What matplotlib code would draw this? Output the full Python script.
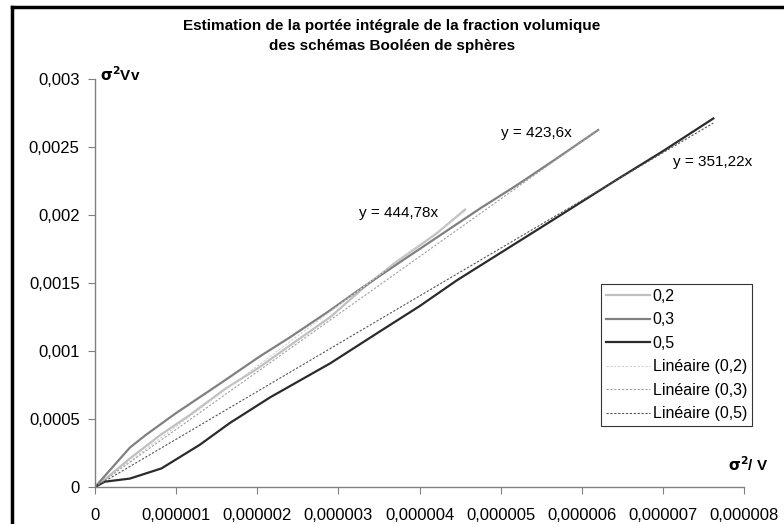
import numpy as np
import matplotlib
matplotlib.use('agg')
import matplotlib.pyplot as plt
from matplotlib.lines import Line2D

plt.rcParams['font.family'] = ['Liberation Sans', 'DejaVu Sans']

# données (x en 1e-6, y en 1e-3)
x02 = [0, 0.15, 0.43, 0.8, 1.17, 1.6, 2.0, 2.4, 2.9, 3.3, 3.7, 4.2, 4.56]
y02 = [0, 0.07, 0.21, 0.38, 0.53, 0.72, 0.87, 1.04, 1.25, 1.46, 1.65, 1.86, 2.04]

x03 = [0, 0.185, 0.43, 0.62, 0.99, 1.54, 2.03, 2.4, 2.9, 3.23, 3.8, 4.3, 4.75, 5.2, 5.7, 6.2]
y03 = [0, 0.125, 0.29, 0.38, 0.54, 0.76, 0.96, 1.10, 1.30, 1.44, 1.67, 1.87, 2.05, 2.22, 2.42, 2.625]

x05 = [0, 0.12, 0.43, 0.82, 1.29, 1.66, 2.16, 2.9, 3.5, 4.0, 4.46, 5.5, 6.43, 7.0, 7.62]
y05 = [0, 0.039, 0.062, 0.137, 0.31, 0.47, 0.66, 0.91, 1.14, 1.33, 1.52, 1.91, 2.26, 2.47, 2.71]

series = ['0,2', '0,3', '0,5']
pentes = [444.78, 423.6, 351.22]
eq_labels = ['y = 444,78x', 'y = 423,6x', 'y = 351,22x']

xticks = [0, 1e-6, 2e-6, 3e-6, 4e-6, 5e-6, 6e-6, 7e-6, 8e-6]
xtick_labels = ['0', '0,000001', '0,000002', '0,000003', '0,000004',
                '0,000005', '0,000006', '0,000007', '0,000008']
yticks = [0, 0.0005, 0.001, 0.0015, 0.002, 0.0025, 0.003]
ytick_labels = ['0', '0,0005', '0,001', '0,0015', '0,002', '0,0025', '0,003']

couleurs = ['#c0c0c0', '#808080', '#2b2b2b']
couleurs_tend = ['#d0d0d0', '#a0a0a0', '#555555']

fig = plt.figure(figsize=(7.84, 5.24), dpi=100)
ax = fig.add_axes([0.1212, 0.0706, 0.828, 0.7786])

donnees = [(x02, y02), (x03, y03), (x05, y05)]
for (xs, ys), nom, c in zip(donnees, series, couleurs):
    ax.plot(np.array(xs) * 1e-6, np.array(ys) * 1e-3, color=c, lw=1.6, label=nom)

for (xs, ys), nom, p, c in zip(donnees, series, pentes, couleurs_tend):
    xx = np.array([0, xs[-1] * 1e-6])
    ax.plot(xx, p * xx, color=c, lw=0.8, ls=(0, (2, 1.5)), label='Linéaire (' + nom + ')')

# équations des tendances
ax.text(3.74e-6, 0.002015, eq_labels[0], fontsize=11, ha='center', va='center')
ax.text(5.44e-6, 0.0026, eq_labels[1], fontsize=11, ha='center', va='center')
ax.text(7.61e-6, 0.00239, eq_labels[2], fontsize=11, ha='center', va='center')

ax.set_xlim(0, 8e-6)
ax.set_ylim(0, 0.003)
ax.set_xticks(xticks)
ax.set_xticklabels(xtick_labels, fontsize=12)
ax.set_yticks(yticks)
ax.set_yticklabels(ytick_labels, fontsize=12)
ax.tick_params(direction='out', length=5, color='#808080', pad=6)
ax.tick_params(axis='x', pad=10)
for s in ['top', 'right']:
    ax.spines[s].set_visible(False)
for s in ['left', 'bottom']:
    ax.spines[s].set_color('#808080')
    ax.spines[s].set_linewidth(1.0)

ax.text(0.008, 1.01, r'$\mathbf{\sigma^2}$Vv', transform=ax.transAxes,
        fontsize=11, fontweight='bold', ha='left', va='center')
ax.text(1.037, 0.054, r'$\mathbf{\sigma^2}$/ V', transform=ax.transAxes,
        fontsize=11, fontweight='bold', ha='right', va='center')

fig.text(0.5, 0.932, 'Estimation de la portée intégrale de la fraction volumique\n'
         'des schémas Booléen de sphères', fontsize=11, fontweight='bold',
         ha='center', va='center', linespacing=1.55)

leg = ax.legend(loc='upper left', bbox_to_anchor=(0.779, 0.4975), fontsize=11.5,
                frameon=True, fancybox=False, borderpad=0.3, labelspacing=0.53,
                handlelength=2.8, handletextpad=0.15, borderaxespad=0)
leg.get_frame().set_edgecolor('black')
leg.get_frame().set_linewidth(0.8)

# cadre extérieur
fig.add_artist(Line2D([12 / 784, 12 / 784], [0, 1 - 7 / 524], color='black', lw=2.5,
                      transform=fig.transFigure))
fig.add_artist(Line2D([12 / 784, 1], [1 - 7 / 524, 1 - 7 / 524], color='black', lw=2.5,
                      transform=fig.transFigure))

fig.savefig('out.png', dpi=100)
